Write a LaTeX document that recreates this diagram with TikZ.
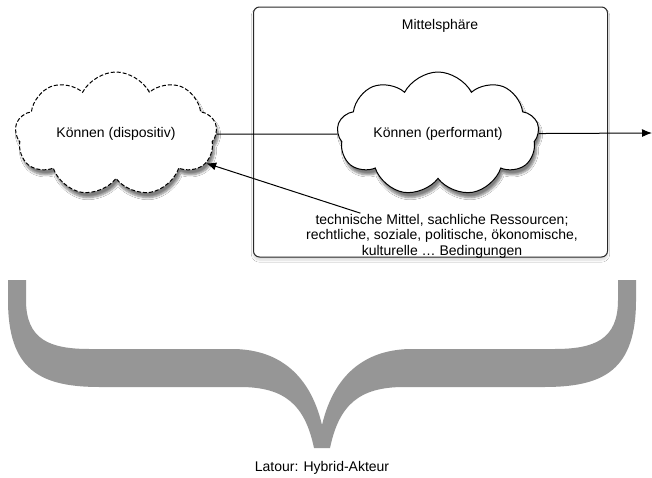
\documentclass[tikz,border=0pt]{standalone}
\usepackage{fontspec}
\setmainfont{Liberation Sans}
\usepackage{tikz}
\usetikzlibrary{shapes.symbols}
\usetikzlibrary{shadows.blur}
\usetikzlibrary{arrows.meta}
\definecolor{bracegray}{RGB}{150,150,150}
\definecolor{framegray}{RGB}{40,40,40}

\begin{document}
\begin{tikzpicture}[x=1pt, y=-1pt, line width=1pt,
    font=\fontsize{14}{15.5}\selectfont,
    wolke/.style={cloud, cloud puffs=9, cloud puff arc=125, cloud ignores aspect, draw=black, fill=white,
        minimum width=202pt, minimum height=124pt,
        blur shadow={shadow xshift=2pt, shadow yshift=-5pt, shadow opacity=50, shadow blur steps=6}},
    pfeil/.style={-{Latex[length=10pt, width=8pt]}}]
        \useasboundingbox[fill=white] (0,0) rectangle (652,477);
        \node[draw=framegray, rounded corners=6pt, fill=white, minimum width=354pt, minimum height=250pt,
            blur shadow={shadow xshift=0pt, shadow yshift=-3pt, shadow opacity=15, shadow blur steps=8}] (sphere) at (430.5,132) {};
        \node (sphlabel) at (440,26) {Mittelsphäre};
        \node[wolke, dash pattern=on 4pt off 2pt] (dispo) at (116,134) {Können (dispositiv)};
        \node[wolke] (perf) at (438,134) {Können (performant)};
        \node[align=center] (means) at (442,236) {technische Mittel, sachliche Ressourcen;\\rechtliche, soziale, politische, ökonomische,\\kulturelle … Bedingungen};
        \coordinate (out) at (652,133);
        \draw (dispo) -- (perf);
        \draw[pfeil] (perf) -- (out);
        \draw[pfeil] ([xshift=58pt, yshift=-3pt]means.north west) -- (dispo);
        \fill[bracegray] (8,280) -- (8,300)
          .. controls (8,370) and (40,387) .. (100,387) -- (240,387)
          .. controls (285,387) and (305,405) .. (314,448) -- (330,448)
          .. controls (339,405) and (359,387) .. (404,387) -- (544,387)
          .. controls (604,387) and (636,370) .. (636,300) -- (636,280) -- (618,280) -- (618,300)
          .. controls (618,340) and (594,349) .. (554,349) -- (412,349)
          .. controls (370,349) and (335,370) .. (322,425)
          .. controls (309,370) and (274,349) .. (232,349) -- (90,349)
          .. controls (50,349) and (26,340) .. (26,300) -- (26,280) -- cycle;
        \node (latour) at (322,468) {Latour: Hybrid-Akteur};
    \end{tikzpicture}
\end{document}
